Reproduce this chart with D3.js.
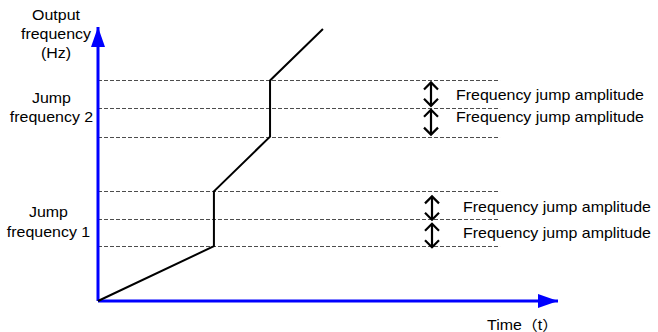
<!DOCTYPE html>
<html>
<head>
<meta charset="utf-8">
<script src="https://cdn.jsdelivr.net/npm/d3@7"></script>
<style>
  body { margin: 0; background: #fff; }
  text { font-family: "Liberation Sans", Arial, "Noto Sans CJK SC", sans-serif; fill: #000; font-size: 14px; }
</style>
</head>
<body>
<svg id="chart" width="658" height="332"></svg>
<script>
// output frequency curve (time, frequency)
var curveTime = [0, 25.2, 25.2, 37.4, 37.4, 48.9];
var curveFreq = [0, 20, 40, 60, 80.5, 99.3];

// dashed levels of each jump band
var jumpLevels1 = [20, 30, 40];
var jumpLevels2 = [60, 70.5, 80.5];

var jumpLabels = ["Jump frequency 1", "Jump frequency 2"];
var ampLabel = "Frequency jump amplitude";
var yTitle = ["Output", "frequency", "(Hz)"];
var xTitle = "Time（t）";

var svg = d3.select("#chart");
var x = d3.scaleLinear().domain([0, 100]).range([98, 558]);
var y = d3.scaleLinear().domain([0, 100]).range([301, 27]);
var AXIS_COLOR = "#0000ff";
var STRETCH = 1.14; // text in the picture is a bit wider than Arial

// text helper, stretched horizontally around its anchor
function label(px, py, s, anchor) {
    return svg.append("text")
        .attr("transform", "translate(" + px + "," + py + ") scale(" + STRETCH + ",1)")
        .attr("text-anchor", anchor || "start")
        .text(s);
}

var defs = svg.append("defs");
defs.append("marker")
    .attr("id", "blueHead")
    .attr("viewBox", "0 0 20 14")
    .attr("refX", 20).attr("refY", 7)
    .attr("markerWidth", 20).attr("markerHeight", 14)
    .attr("markerUnits", "userSpaceOnUse")
    .attr("orient", "auto")
  .append("path")
    .attr("d", "M0,0L20,7L0,14Z")
    .style("fill", AXIS_COLOR);

// dashed level lines
var levels = jumpLevels1.concat(jumpLevels2);
svg.append("g").selectAll("line")
    .data(levels)
  .enter().append("line")
    .attr("x1", x(0)).attr("x2", x(87.4))
    .attr("y1", function (d) { return Math.round(y(d)) + 0.5; })
    .attr("y2", function (d) { return Math.round(y(d)) + 0.5; })
    .style("stroke", "#4d4d4d")
    .style("stroke-width", 1)
    .style("stroke-dasharray", "4,2");

// axes
svg.append("line")
    .attr("x1", x(0)).attr("y1", y(0)).attr("x2", x(0)).attr("y2", y(100))
    .style("stroke", AXIS_COLOR).style("stroke-width", 3)
    .attr("marker-end", "url(#blueHead)");
svg.append("line")
    .attr("x1", x(0)).attr("y1", y(0)).attr("x2", x(100)).attr("y2", y(0))
    .style("stroke", AXIS_COLOR).style("stroke-width", 3)
    .attr("marker-end", "url(#blueHead)");

// curve
var pts = curveTime.map(function (t, i) { return [t, curveFreq[i]]; });
svg.append("path")
    .datum(pts)
    .attr("d", d3.line().x(function (d) { return x(d[0]); }).y(function (d) { return y(d[1]); }))
    .style("fill", "none")
    .style("stroke", "#000")
    .style("stroke-width", 2);

// double arrows + amplitude labels
function doubleArrow(ax, y1, y2) {
    var g = svg.append("g").style("fill", "none").style("stroke", "#000").style("stroke-width", 2.2);
    g.append("line").attr("x1", ax).attr("x2", ax).attr("y1", y1).attr("y2", y2);
    g.append("path").attr("d", "M" + (ax - 7) + "," + (y1 + 7) + "L" + ax + "," + y1 + "L" + (ax + 7) + "," + (y1 + 7));
    g.append("path").attr("d", "M" + (ax - 7) + "," + (y2 - 7) + "L" + ax + "," + y2 + "L" + (ax + 7) + "," + (y2 - 7));
}
var bands = [
    { levels: jumpLevels2, ax: 431, tx: 456, shift: 0, base: [100, 122] },
    { levels: jumpLevels1, ax: 432, tx: 463, shift: 3, base: [212, 238] }
];
bands.forEach(function (b) {
    for (var i = 0; i < 2; i++) {
        var top = y(b.levels[2 - i]), bot = y(b.levels[1 - i]);
        doubleArrow(b.ax, top + 2 + b.shift, bot - 2 + b.shift);
        label(b.tx, b.base[i], ampLabel);
    }
});

// jump frequency labels
var jumpPos = [{ cx: 48.5, base: [217, 237] }, { cx: 51.5, base: [103, 122] }];
jumpLabels.forEach(function (s, i) {
    var words = s.split(" ");
    label(jumpPos[i].cx, jumpPos[i].base[0], words[0], "middle");
    label(jumpPos[i].cx, jumpPos[i].base[1], words[1] + " " + words[2], "middle");
});

// axis titles
yTitle.forEach(function (s, i) {
    label(56, 20 + i * 19, s, "middle");
});
label(487, 330, xTitle);
</script>
</body>
</html>
